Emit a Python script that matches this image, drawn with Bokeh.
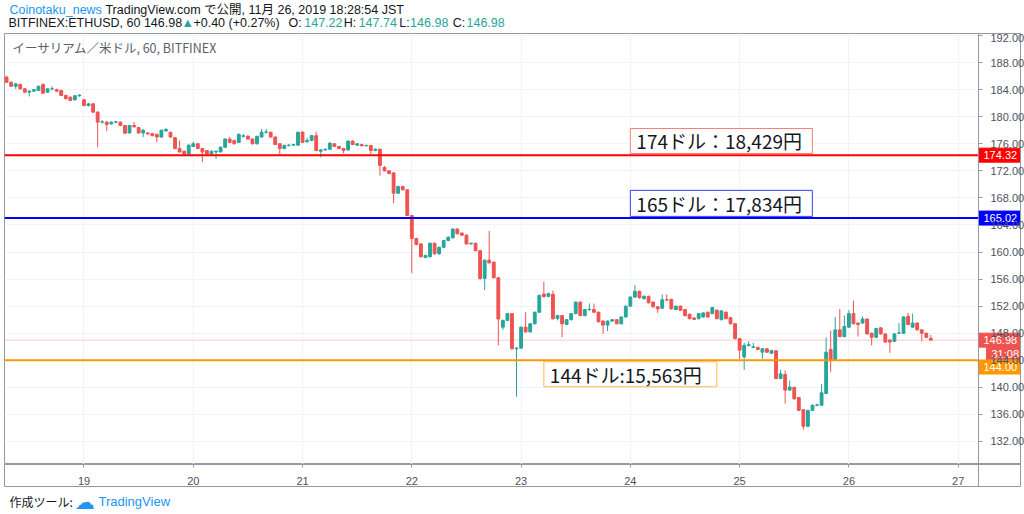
import pandas as pd
from bokeh.plotting import figure
from bokeh.layouts import column
from bokeh.models import (ColumnDataSource, Range1d, Span, Label, Grid,
                          FixedTicker, SingleIntervalTicker, NumeralTickFormatter,
                          DatetimeTickFormatter)
from bokeh.core.properties import value
from bokeh.embed import file_html
from bokeh.resources import INLINE

# ---------------- data (hourly ETH/USD, Bitfinex, JST) ----------------
first_candle = "2019-11-18 07:00"

opens = [
    185.85, 185.1, 184.5, 184.76, 184.12, 183.63, 183.78, 183.88, 184.76, 183.63,
    184.12, 184.0, 183.88, 183.14, 182.89, 182.5, 183.1, 182.5, 181.66, 181.9,
    180.68, 179.2, 179.2, 178.95, 179.2, 179.2, 178.7, 177.6, 178.7, 178.4,
    177.6, 177.6, 177.5, 177.4, 177.0, 177.9, 177.7, 176.9, 175.3, 174.9,
    174.5, 175.6, 176.0, 175.3, 175.0, 174.5, 174.8, 174.8, 175.5, 176.7,
    176.5, 176.2, 177.1, 177.1, 176.7, 176.0, 177.0, 177.7, 177.7, 177.0,
    176.0, 175.3, 175.75, 175.8, 175.8, 177.7, 176.3, 176.5, 177.2, 174.9,
    175.1, 175.2, 176.0, 175.6, 175.3, 175.1, 176.4, 175.8, 175.9, 175.7,
    175.75, 175.0, 175.2, 172.5, 172.0, 171.7, 168.7, 169.7, 169.2, 165.4,
    162.0, 161.2, 159.2, 159.3, 161.3, 159.75, 160.7, 161.7, 162.1, 163.4,
    162.8, 162.5, 161.2, 161.3, 160.2, 156.1, 158.8, 158.5, 156.2, 148.9,
    149.9, 150.9, 145.7, 145.8, 148.9, 148.2, 149.4, 151.1, 153.8, 153.45,
    153.75, 150.2, 150.6, 149.3, 150.0, 150.9, 152.6, 150.6, 151.5, 151.5,
    151.1, 149.8, 149.2, 149.8, 150.0, 149.4, 150.4, 152.0, 153.35, 154.2,
    153.1, 153.45, 152.6, 151.9, 151.7, 152.95, 153.0, 151.5, 152.0, 151.5,
    150.8, 150.25, 150.15, 150.4, 151.1, 150.9, 151.4, 150.0, 151.1, 150.3,
    149.4, 147.2, 144.5, 146.2, 145.9, 145.9, 145.2, 145.7, 145.05, 145.4,
    141.3, 141.9, 139.6, 140.0, 138.5, 136.7, 134.25, 136.6, 137.35, 137.35,
    139.1, 145.6, 144.0, 148.5, 147.5, 148.9, 150.9, 149.5, 149.5, 150.1,
    148.0, 147.4, 148.8, 147.9, 147.0, 146.8, 148.0, 148.0, 150.5, 148.9,
    149.5, 148.5, 148.0, 147.22,
]
highs = [
    186.05, 185.2, 184.95, 184.9, 184.25, 183.9, 184.1, 184.6, 184.96, 184.2,
    184.5, 184.15, 184.0, 183.25, 183.0, 183.2, 183.3, 182.6, 182.0, 182.05,
    180.8, 179.5, 179.35, 179.3, 179.4, 179.3, 178.8, 178.8, 179.2, 178.5,
    178.2, 177.7, 177.6, 177.5, 178.1, 178.3, 177.8, 177.0, 176.5, 175.0,
    175.9, 176.3, 176.1, 175.4, 175.1, 175.0, 175.0, 175.6, 176.8, 177.0,
    176.6, 177.5, 177.4, 177.3, 176.8, 177.2, 178.2, 178.2, 177.8, 177.1,
    176.1, 175.9, 175.95, 176.0, 177.8, 177.9, 176.9, 177.3, 177.8, 175.2,
    175.3, 176.2, 176.1, 175.7, 175.4, 176.5, 176.5, 176.1, 176.0, 175.9,
    175.8, 175.3, 175.3, 172.7, 172.1, 171.8, 169.8, 169.8, 169.3, 165.5,
    162.1, 161.3, 159.6, 161.4, 161.4, 160.8, 161.8, 162.3, 163.5, 163.5,
    162.9, 162.6, 161.4, 161.4, 160.3, 158.9, 163.1, 158.6, 156.3, 150.0,
    151.0, 151.0, 146.0, 149.0, 151.1, 149.5, 151.2, 153.7, 155.6, 154.0,
    154.3, 150.7, 150.7, 150.1, 151.0, 152.7, 152.7, 151.6, 152.4, 152.4,
    151.2, 149.9, 149.9, 150.1, 150.1, 150.5, 152.1, 153.45, 155.1, 154.3,
    153.6, 153.55, 152.7, 152.0, 153.75, 153.75, 153.1, 152.1, 152.1, 151.6,
    150.9, 150.35, 151.0, 151.1, 151.2, 151.9, 151.5, 151.4, 151.2, 150.4,
    149.5, 147.3, 146.6, 146.8, 146.6, 146.0, 145.8, 145.8, 145.55, 145.5,
    142.6, 142.5, 141.0, 140.1, 138.6, 136.8, 136.7, 137.45, 137.6, 140.5,
    147.4, 148.4, 150.4, 151.6, 150.6, 151.4, 152.85, 149.6, 150.5, 150.2,
    148.1, 148.8, 148.9, 148.0, 147.1, 148.0, 149.5, 150.5, 151.0, 150.9,
    149.6, 148.6, 148.1, 147.74,
]
lows = [
    185.0, 184.4, 184.12, 184.05, 183.55, 183.0, 183.7, 183.8, 183.4, 183.5,
    183.9, 183.7, 183.05, 182.55, 182.3, 182.35, 182.95, 181.55, 181.5, 180.55,
    175.5, 179.0, 177.87, 178.8, 179.05, 178.6, 177.45, 177.5, 178.4, 177.5,
    177.0, 177.35, 177.1, 176.2, 176.9, 177.8, 176.9, 175.2, 174.7, 174.4,
    174.4, 175.5, 175.2, 173.3, 174.4, 174.4, 173.8, 174.7, 175.4, 176.1,
    175.9, 176.1, 176.9, 176.6, 175.9, 175.9, 176.9, 177.5, 176.9, 175.8,
    174.5, 175.2, 175.6, 175.7, 175.7, 176.1, 176.2, 176.4, 174.9, 174.0,
    175.0, 175.1, 175.5, 175.2, 174.6, 175.0, 175.8, 175.7, 175.6, 175.6,
    174.5, 174.9, 171.3, 171.9, 171.5, 167.2, 168.6, 169.1, 165.3, 156.9,
    161.0, 159.2, 159.1, 159.2, 159.6, 159.6, 160.6, 161.6, 162.0, 162.6,
    162.4, 161.1, 161.1, 160.1, 155.9, 154.4, 158.3, 156.1, 146.2, 148.5,
    149.8, 145.6, 138.6, 145.7, 148.1, 148.1, 149.3, 151.0, 153.3, 153.3,
    150.0, 149.9, 147.4, 149.2, 149.9, 150.8, 150.5, 150.5, 151.3, 151.0,
    149.6, 147.9, 148.3, 149.7, 149.3, 149.3, 150.3, 151.9, 153.2, 153.1,
    153.0, 152.4, 151.8, 151.0, 151.6, 152.8, 151.5, 151.4, 151.3, 150.5,
    150.05, 149.95, 150.05, 150.3, 150.3, 150.8, 150.05, 149.9, 150.05, 149.3,
    147.1, 144.2, 142.6, 146.0, 145.8, 145.5, 144.2, 145.1, 144.9, 141.2,
    141.2, 137.6, 139.5, 138.2, 136.5, 133.75, 134.1, 136.5, 137.2, 137.3,
    139.0, 142.3, 143.9, 147.4, 147.4, 148.8, 149.3, 147.5, 149.4, 147.8,
    146.2, 147.3, 147.8, 146.6, 145.1, 146.7, 147.9, 147.9, 149.2, 148.8,
    148.4, 146.8, 147.3, 146.98,
]
closes = [
    185.1, 184.5, 184.86, 184.12, 183.63, 183.78, 184.0, 184.5, 183.48, 184.12,
    184.15, 183.78, 183.14, 182.65, 182.4, 183.1, 183.2, 181.66, 181.9, 180.68,
    179.2, 179.25, 178.85, 179.2, 179.25, 178.7, 177.57, 178.7, 178.5, 177.6,
    178.0, 177.45, 177.2, 177.0, 178.0, 178.1, 177.0, 175.3, 174.8, 174.5,
    175.8, 176.0, 175.3, 174.8, 174.5, 174.9, 174.9, 175.5, 176.7, 176.2,
    176.0, 177.4, 177.2, 176.7, 176.0, 177.1, 177.7, 177.75, 177.0, 175.9,
    175.3, 175.75, 175.8, 175.9, 177.7, 176.2, 176.5, 177.2, 175.0, 175.1,
    175.2, 176.1, 175.6, 175.3, 175.0, 176.4, 175.9, 176.0, 175.7, 175.75,
    175.0, 175.2, 172.8, 172.0, 171.6, 168.7, 169.7, 169.2, 165.4, 162.0,
    161.1, 159.3, 159.5, 161.3, 159.75, 160.7, 161.7, 162.2, 163.4, 162.7,
    162.5, 161.2, 161.3, 160.2, 156.1, 158.8, 158.4, 156.2, 150.1, 149.9,
    150.9, 145.7, 145.8, 148.9, 148.2, 149.4, 151.1, 153.6, 153.4, 153.85,
    150.15, 150.6, 149.4, 150.0, 150.9, 152.6, 150.6, 151.5, 151.55, 151.1,
    149.7, 149.2, 149.8, 150.0, 149.4, 150.4, 152.0, 153.35, 154.2, 153.25,
    153.45, 152.5, 151.9, 151.6, 152.95, 152.9, 151.6, 152.0, 151.4, 150.6,
    150.15, 150.05, 150.9, 151.0, 150.4, 151.8, 150.15, 151.3, 150.15, 149.4,
    147.2, 145.5, 146.2, 146.3, 146.0, 145.6, 145.7, 145.2, 145.45, 141.3,
    142.0, 139.6, 140.05, 138.3, 136.6, 134.25, 136.6, 137.35, 137.4, 139.2,
    145.2, 144.0, 148.5, 147.5, 149.0, 150.9, 149.4, 149.3, 150.1, 147.9,
    147.4, 148.7, 147.9, 146.7, 146.7, 147.9, 148.05, 150.4, 149.3, 149.5,
    148.5, 148.0, 147.4, 146.98,
]

day_labels = ["19", "20", "21", "22", "23", "24", "25", "26", "27"]
level_prices = [174.32, 165.02, 144.00]
level_colors = ["#ff0000", "#0000ff", "#ff9800"]
level_box_colors = ["#f77b7b", "#3a3aff", "#ffb74d"]
level_notes = ["174ドル：18,429円", "165ドル：17,834円", "144ドル:15,563円"]
note_times = ["2019-11-24 00:00", "2019-11-24 00:00", "2019-11-23 05:00"]
last_price = 146.98
countdown = "31:08"

UP, DOWN = "#26a69a", "#ef5350"
TEXT = "#131722"
AXIS_TXT = "#4c525e"
FRAME = "#9598a1"
GRID = "#f0f3fa"
LATIN = "'Liberation Sans', 'Noto Sans CJK JP', sans-serif"
CJK = "'Noto Sans CJK JP', sans-serif"

W = 1024
HEAD_H, AXIS_H, FOOT_H = 33, 23, 27

# ---------------- geometry of main pane ----------------
day0 = pd.Timestamp("2019-11-19 00:00")
x_start = day0 - pd.Timedelta(hours=17.46)
pane_end = day0 + pd.Timedelta(hours=196.46)
x_end = day0 + pd.Timedelta(hours=205.69)
y0, y1 = 128.60, 192.30
FW, FH = 1016, 431
PX_H = FW / ((x_end - x_start) / pd.Timedelta(hours=1))   # px per hour
PX_USD = FH / (y1 - y0)                                   # px per dollar


def hours_px(px):
    return pd.Timedelta(hours=px / PX_H)


def usd_px(px):
    return px / PX_USD


def ms(ts):
    return ts.value / 1e6


day_ticks = [int(pd.Timestamp(f"2019-11-{d}").value // 10**6) for d in day_labels]
xr = Range1d(x_start, x_end)

# ---------------- candle source ----------------
times = pd.date_range(first_candle, periods=len(opens), freq="h")
src = ColumnDataSource(dict(
    t=times, o=opens, h=highs, l=lows, c=closes,
    top=[max(a, b) for a, b in zip(opens, closes)],
    bot=[min(a, b) for a, b in zip(opens, closes)],
    col=[UP if c >= o else DOWN for o, c in zip(opens, closes)],
))

p = figure(x_axis_type="datetime", x_axis_location=None, y_axis_location="right",
           title=None, x_range=xr, y_range=Range1d(y0, y1),
           frame_width=FW, frame_height=FH,
           min_border_left=4, min_border_right=4, min_border_top=0, min_border_bottom=0,
           output_backend="svg", toolbar_location=None,
           background_fill_color="white", border_fill_color="white",
           outline_line_color=FRAME, outline_line_width=1)

ya = p.yaxis[0]
ya.ticker = SingleIntervalTicker(interval=4)
ya.formatter = NumeralTickFormatter(format="0.00")
ya.axis_line_color = FRAME
ya.minor_tick_line_color = None
ya.major_tick_line_color = None
ya.major_tick_in = 0
ya.major_tick_out = 0
ya.major_label_standoff = -34          # labels inside the price column
ya.major_label_text_color = AXIS_TXT
ya.major_label_text_font = "Liberation Sans"
ya.major_label_text_font_size = "11px"

p.ygrid.grid_line_color = GRID
p.add_layout(Grid(dimension=0, ticker=FixedTicker(ticks=day_ticks), grid_line_color=GRID))

# grid only inside the pane; short price ticks at the pane edge
try:
    p.ygrid.cross_bounds = (ms(x_start), ms(pane_end))
    p.add_layout(Grid(dimension=1, ticker=SingleIntervalTicker(interval=4),
                      cross_bounds=(ms(pane_end), ms(pane_end + hours_px(4))),
                      grid_line_color=FRAME))
except Exception:
    p.quad(left=[pane_end], right=[x_end], bottom=[y0], top=[y1],
           fill_color="white", line_color=None)

# separator between pane and price column
p.add_layout(Span(location=ms(pane_end), dimension="height", line_color=FRAME, line_width=1))

# candles
p.segment(x0="t", y0="l", x1="t", y1="h", color="col", line_width=1, source=src)
p.vbar(x="t", width=0.62 * 3600 * 1000, top="top", bottom="bot",
       fill_color="col", line_color="col", line_width=1, source=src)

# price lines (pane only)
p.segment(x0=[x_start], x1=[pane_end], y0=[last_price], y1=[last_price],
          line_color=DOWN, line_alpha=0.3, line_width=1)
p.segment(x0=[x_start] * len(level_prices), x1=[pane_end] * len(level_prices),
          y0=level_prices, y1=level_prices, line_color=level_colors, line_width=2)

# boxed notes
note_w = [182, 182, 173]
note_h = [25, 26, 25]
nl, nr, nb, nt_, nx = [], [], [], [], []
for lv, nt, w, h in zip(level_prices, note_times, note_w, note_h):
    left = pd.Timestamp(nt)
    nl.append(left)
    nr.append(left + hours_px(w))
    nx.append(left + hours_px(6))
    if lv < last_price:
        top = lv - usd_px(1.5)
        nb.append(top - usd_px(h))
        nt_.append(top)
    else:
        bot = lv + usd_px(1.7)
        nb.append(bot)
        nt_.append(bot + usd_px(h))
p.quad(left=nl, right=nr, bottom=nb, top=nt_, fill_color="white",
       line_color=level_box_colors, line_width=1)
p.text(x=nx, y=[(b + t) / 2 for b, t in zip(nb, nt_)], text=level_notes,
       text_font=value(CJK), text_font_size="19px", text_color=TEXT,
       text_align="left", text_baseline="middle")

# price tags in the price column
tag_y = [level_prices[0], level_prices[1], last_price,
         last_price - usd_px(13.5), level_prices[2] - usd_px(6.7)]
tag_txt = [f"{level_prices[0]:.2f}", f"{level_prices[1]:.2f}", f"{last_price:.2f}",
           countdown, f"{level_prices[2]:.2f}"]
tag_bg = [level_colors[0], level_colors[1], DOWN, DOWN, level_colors[2]]
tag_left = [pane_end, pane_end, pane_end, pane_end + hours_px(8), pane_end]
p.quad(left=tag_left, right=[x_end] * 5,
       bottom=[v - usd_px(7) for v in tag_y], top=[v + usd_px(7) for v in tag_y],
       fill_color=tag_bg, line_color=tag_bg)
p.text(x=[t + hours_px(5) for t in tag_left], y=tag_y, text=tag_txt,
       text_font=value("Liberation Sans"), text_font_size="11px", text_color="white",
       text_align="left", text_baseline="middle")

# watermark legend inside the pane
p.add_layout(Label(x=8, y=FH - 14, x_units="screen", y_units="screen",
                   text="イーサリアム／米ドル, 60, BITFINEX", text_color="#5d606b",
                   text_font=CJK, text_font_size="12.5px", text_baseline="middle"))

# ---------------- time axis strip (boxed) ----------------
ax_fig = figure(x_axis_type="datetime", x_axis_location="above", y_axis_location=None,
                title=None, x_range=xr, y_range=Range1d(0, 1),
                frame_width=FW, frame_height=AXIS_H,
                min_border_left=4, min_border_right=4, min_border_top=0, min_border_bottom=0,
                output_backend="svg", toolbar_location=None,
                background_fill_color="white", border_fill_color="white",
                outline_line_color=FRAME, outline_line_width=1)
ax_fig.xgrid.visible = False
ax_fig.ygrid.visible = False
xa = ax_fig.xaxis[0]
xa.ticker = FixedTicker(ticks=day_ticks)
xa.formatter = DatetimeTickFormatter(days="%d", hours="%d", hourmin="%d", months="%d")
xa.axis_line_color = FRAME
xa.major_tick_line_color = FRAME
xa.minor_tick_line_color = None
xa.major_tick_in = 3
xa.major_tick_out = 0
xa.major_label_standoff = -20           # labels inside the strip
xa.major_label_text_color = AXIS_TXT
xa.major_label_text_font = "Liberation Sans"
xa.major_label_text_font_size = "11px"
ax_fig.add_layout(Span(location=ms(pane_end), dimension="height",
                       line_color=FRAME, line_width=1))


# ---------------- header & footer strips ----------------
def strip(h):
    f = figure(width=W, height=h, x_range=Range1d(0, W), y_range=Range1d(0, h),
               x_axis_location=None, y_axis_location=None, title=None,
               min_border=0, outline_line_color=None, toolbar_location=None,
               output_backend="svg", background_fill_color="white",
               border_fill_color="white")
    f.xgrid.visible = False
    f.ygrid.visible = False
    return f


def put(f, txt, x, y, color, size="12.5px", font=LATIN):
    f.add_layout(Label(x=x, y=y, text=txt, text_color=color, text_font=font,
                       text_font_size=size, text_align="left", text_baseline="middle"))


head = strip(HEAD_H)
put(head, "Coinotaku_news", 5, 24, "#2196f3")
put(head, "TradingView.com で公開, 11月 26, 2019 18:28:54 JST", 102, 24, TEXT)
hdr2 = [("BITFINEX:ETHUSD, 60 146.98", 4, TEXT), ("▲", 179, UP),
        ("+0.40 (+0.27%)", 191, TEXT), ("O:", 287, TEXT), ("147.22", 303, UP),
        ("H:", 343, TEXT), ("147.74", 358, UP),
        ("L:", 399, TEXT), ("146.98", 410, UP),
        ("C:", 453, TEXT), ("146.98", 467, UP)]
for txt, x, col in hdr2:
    put(head, txt, x, 11, col)

foot = strip(FOOT_H)
put(foot, "作成ツール:", 5, 13, TEXT, "12px", CJK)
put(foot, "☁", 71, 13, "#2196f3", "20px", "DejaVu Sans")
put(foot, "TradingView", 95, 13, "#2196f3", "13px", LATIN)

layout = column(head, p, ax_fig, foot, spacing=0)
open("out.html", "w").write(file_html(layout, INLINE))
